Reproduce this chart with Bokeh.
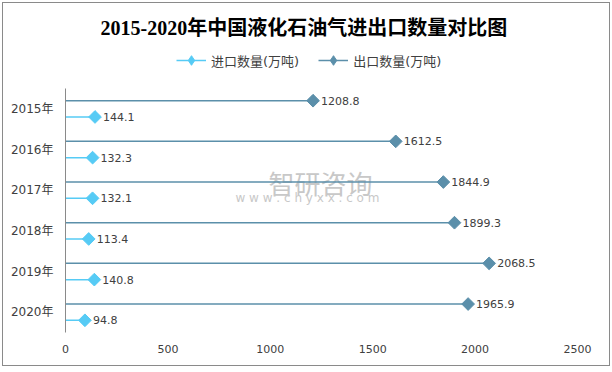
import math
from bokeh.plotting import figure
from bokeh.layouts import column
from bokeh.models import FactorRange, Range1d, ColumnDataSource, Legend, LegendItem, FixedTicker
from bokeh.transform import dodge
from bokeh.core.properties import value
from bokeh.embed import file_html
from bokeh.resources import INLINE

years = ["2015年", "2016年", "2017年", "2018年", "2019年", "2020年"]
imports = [144.1, 132.3, 132.1, 113.4, 140.8, 94.8]
exports = [1208.8, 1612.5, 1844.9, 1899.3, 2068.5, 1965.9]
x_ticks = [0, 500, 1000, 1500, 2000, 2500]
title_text = "2015-2020年中国液化石油气进出口数量对比图"
imp_name = "进口数量(万吨)"
exp_name = "出口数量(万吨)"
wm_name = "智研咨询"
wm_url = "w w w . c h y x x . c o m"

IMP_C = "#56CBF5"
EXP_C = "#5B8FAA"
TXT = "#404040"
FONT = "DejaVu Sans, Noto Sans CJK SC"
W = 606
HH = 69
MH = 293
BL, BR = 62, 32          # frame borders (shared by both rows)
FW = W - BL - BR         # frame width

# ---------------- header (title + legend) ----------------
hdr = figure(width=W, height=HH, output_backend="svg", toolbar_location=None,
             x_range=Range1d(0, FW), y_range=Range1d(0, HH),
             x_axis_type=None, y_axis_type=None,
             min_border_left=BL, min_border_right=BR,
             min_border_top=0, min_border_bottom=0)
hdr.xgrid.visible = False
hdr.ygrid.visible = False
hdr.outline_line_color = None

hdr.text(x=[35], y=[HH - 24], text=[title_text], text_align="left", text_baseline="middle",
         text_font=value("Liberation Serif, Noto Sans CJK SC"), text_font_size="20px",
         text_font_style="bold", text_color="#000000")

proxy = ColumnDataSource(dict(x=[float("nan")], y=[float("nan")]))
l_imp = hdr.line(x="x", y="y", source=proxy, line_color=IMP_C, line_width=1.5)
d_imp = hdr.scatter(x="x", y="y", source=proxy, marker="diamond",
                    fill_color=IMP_C, line_color=IMP_C)
l_exp = hdr.line(x="x", y="y", source=proxy, line_color=EXP_C, line_width=1.5)
d_exp = hdr.scatter(x="x", y="y", source=proxy, marker="diamond",
                    fill_color=EXP_C, line_color=EXP_C)

legend = Legend(items=[LegendItem(label=imp_name, renderers=[l_imp, d_imp]),
                       LegendItem(label=exp_name, renderers=[l_exp, d_exp])],
                orientation="horizontal", location=(111, 0),
                label_text_font=FONT, label_text_font_size="13px", label_text_color=TXT,
                glyph_width=30, glyph_height=24, label_height=24, label_standoff=5,
                spacing=19, border_line_color=None, background_fill_alpha=0,
                margin=0, padding=0)
hdr.add_layout(legend, "center")

# ---------------- main chart ----------------
src = ColumnDataSource(dict(
    year=years, imp=imports, exp=exports, zero=[0] * len(years),
    imp_lbl=[f"{v:.1f}" for v in imports],
    exp_lbl=[f"{v:.1f}" for v in exports],
))

p = figure(width=W, height=MH, output_backend="svg", toolbar_location=None,
           y_range=FactorRange(factors=years[::-1]), x_range=Range1d(0, 2500),
           min_border_left=BL, min_border_right=BR, min_border_bottom=33,
           min_border_top=16)
p.xgrid.visible = False
p.ygrid.visible = False
p.outline_line_color = None

p.xaxis.ticker = FixedTicker(ticks=x_ticks)
p.xaxis.axis_line_color = None
p.xaxis.major_tick_line_color = None
p.xaxis.minor_tick_line_color = None
p.xaxis.major_tick_out = 0
p.xaxis.major_tick_in = 0
p.xaxis.major_label_standoff = 12
p.xaxis.major_label_text_font = FONT
p.xaxis.major_label_text_font_size = "11px"
p.xaxis.major_label_text_color = TXT

p.yaxis.axis_line_color = "#8a8a8a"
p.yaxis.major_tick_line_color = None
p.yaxis.minor_tick_line_color = None
p.yaxis.major_tick_out = 0
p.yaxis.major_tick_in = 0
p.yaxis.major_label_standoff = 12
p.yaxis.major_label_text_font = FONT
p.yaxis.major_label_text_font_size = "12px"
p.yaxis.major_label_text_color = TXT

# watermark
wm = ColumnDataSource(dict(year=["2017年"], x=[991], x2=[830]))
p.text(x="x", y=dodge("year", 0.2, range=p.y_range), text=value(wm_name), source=wm,
       text_font=value("Noto Sans CJK SC"), text_font_size="26px", text_color="#c8c8c8",
       text_baseline="middle", text_align="left")
p.text(x="x2", y=dodge("year", -0.2, range=p.y_range), text=value(wm_url), source=wm,
       text_font=value("DejaVu Sans"), text_font_size="12px", text_color="#c8c8c8",
       text_baseline="middle", text_align="left")

y_exp = dodge("year", 0.2, range=p.y_range)
y_imp = dodge("year", -0.2, range=p.y_range)

p.segment(x0="zero", y0=y_exp, x1="exp", y1=y_exp, source=src, line_color=EXP_C, line_width=1.5)
p.scatter(x="exp", y=y_exp, source=src, marker="square", angle=math.pi / 4, size=9,
          fill_color=EXP_C, line_color=EXP_C)
p.segment(x0="zero", y0=y_imp, x1="imp", y1=y_imp, source=src, line_color=IMP_C, line_width=1.5)
p.scatter(x="imp", y=y_imp, source=src, marker="square", angle=math.pi / 4, size=9,
          fill_color=IMP_C, line_color=IMP_C)

p.text(x="exp", y=y_exp, text="exp_lbl", source=src, x_offset=8, text_baseline="middle",
       text_font=value("DejaVu Sans"), text_font_size="11px", text_color=TXT)
p.text(x="imp", y=y_imp, text="imp_lbl", source=src, x_offset=8, text_baseline="middle",
       text_font=value("DejaVu Sans"), text_font_size="11px", text_color=TXT)

layout = column(hdr, p, spacing=0)
layout.margin = (2, 0, 0, 2)
layout.styles = {"border": "1px solid #8a8a8a"}

open("out.html", "w").write(file_html(layout, INLINE))
